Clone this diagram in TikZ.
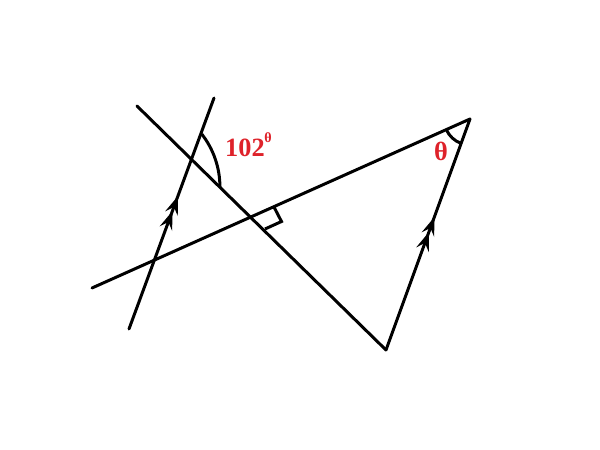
\documentclass[tikz,border=0pt]{standalone}
\usepackage{fontspec}
\setmainfont{Liberation Serif}
\usetikzlibrary{arrows.meta,decorations.markings}
\definecolor{lblred}{RGB}{222,34,42}
\tikzset{
  seg/.style={line width=1.7pt, line cap=round},
  parmark/.style={postaction={decorate,decoration={markings,
     mark=at position 0.51 with {\arrow{Stealth[length=10.5pt,width=7.5pt,inset=4pt]}},
     mark=at position 0.575 with {\arrow{Stealth[length=10.5pt,width=7.5pt,inset=4pt]}}}}},
  lbl/.style={text=lblred, font=\bfseries\fontsize{15}{17}\selectfont, inner sep=0pt},
  angarc/.style={line width=1.7pt}
}
\begin{document}
\begin{tikzpicture}[x=0.02cm,y=-0.02cm]
\useasboundingbox (0,0) rectangle (600,450);
\coordinate (A1) at (129,329);
\coordinate (A2) at (214,98);
\coordinate (L1) at (92,288);
\coordinate (T) at (470,119);
\coordinate (D1) at (137,106);
\coordinate (B) at (386,350);
% lines
\draw[seg, parmark] (A1) -- (A2);
\draw[seg] (L1) -- (T);
\draw[seg] (D1) -- (B);
\draw[seg, parmark] (B) -- (T);
% angle arc between left line and diagonal
\draw[angarc] (201.7,134) arc[start angle=-38, end angle=0, radius=86];
% right angle mark
\draw[line width=1.7pt, line join=miter] (274,207) -- (281.5,221.5) -- (265,229);
% theta arc
\draw[angarc] (446.3,129.6) arc[start angle=155.9, end angle=110, radius=26];
\node[lbl] (l102) at (245,147.5) {102};
\node[lbl, font=\bfseries\fontsize{8}{9}\selectfont] (sup) at (268,138) {θ};
\node[lbl] (th) at (441,151) {θ};
\end{tikzpicture}
\end{document}
